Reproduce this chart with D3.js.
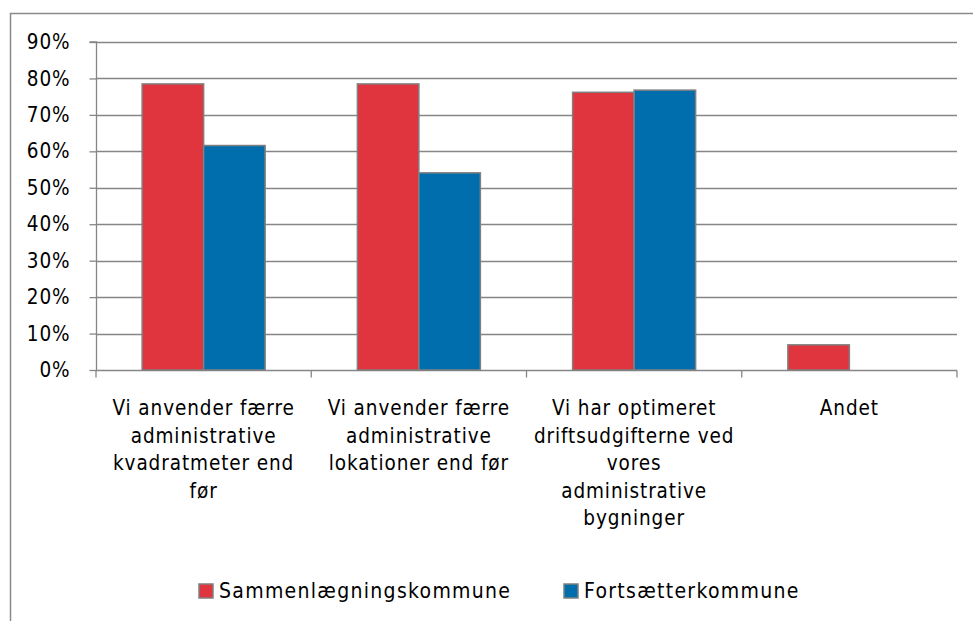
<!DOCTYPE html>
<html><head><meta charset="utf-8">
<script src="https://cdn.jsdelivr.net/npm/d3@7"></script>
<style>body{margin:0;background:#fff}svg{display:block}</style>
</head><body>
<svg id="c" width="973" height="621"></svg>
<script>
const categories = [
  ["Vi anvender færre","administrative","kvadratmeter end","før"],
  ["Vi anvender færre","administrative","lokationer end før"],
  ["Vi har optimeret","driftsudgifterne ved","vores","administrative","bygninger"],
  ["Andet"]
];
const seriesNames = ["Sammenlægningskommune","Fortsætterkommune"];
const sammen = [0.785, 0.785, 0.762, 0.069];
const fortsaet = [0.616, 0.541, 0.768, 0];
const yTicks = [0,0.1,0.2,0.3,0.4,0.5,0.6,0.7,0.8,0.9];
const colors = ["#E0343E","#006EAD"];

const FONT = "'DejaVu Sans Condensed','DejaVu Sans',sans-serif";
const svg = d3.select("#c");
const L=96, R=957, T=42, B=370;
const x = d3.scaleBand().domain(d3.range(categories.length)).range([L,R]).paddingInner(0).paddingOuter(0);
const y = d3.scaleLinear().domain([0,0.9]).range([B,T]);
const gap = 1.5;
const bw = x.bandwidth()/(2+gap);
const xs = d3.scaleBand().domain([0,1]).range([bw*gap/2, bw*gap/2+2*bw]);

// outer border
svg.append("path").attr("d","M10.5,621 L10.5,13.5 L973,13.5").attr("fill","none").attr("stroke","#8a8a8a").attr("stroke-width",1.5);

// gridlines
svg.append("g").selectAll("line").data(yTicks.slice(1)).join("line")
  .attr("x1",L).attr("x2",R).attr("y1",d=>Math.round(y(d))+0.5).attr("y2",d=>Math.round(y(d))+0.5)
  .attr("stroke","#868686").attr("stroke-width",1.3);

// y axis
const ya = svg.append("g").attr("transform",`translate(${L+0.5},0)`)
  .call(d3.axisLeft(y).tickValues(yTicks).tickFormat(d3.format(".0%")).tickSize(7).tickPadding(19));
ya.select(".domain").attr("stroke","#868686").attr("stroke-width",1.3).attr("d",`M-7,${T}H0V${B}`);
ya.selectAll(".tick line").attr("stroke","#868686").attr("stroke-width",1.3);
ya.selectAll(".tick text").attr("font-family",FONT).attr("font-size",20.5).attr("letter-spacing","0.9px").attr("fill","#000");

// x axis
const xa = svg.append("g").attr("transform",`translate(0,${B+0.5})`);
xa.append("line").attr("x1",L).attr("x2",R).attr("stroke","#868686").attr("stroke-width",1.3);
xa.selectAll("line.t").data(d3.range(categories.length+1)).join("line").attr("class","t")
  .attr("x1",i=>L+i*x.bandwidth()).attr("x2",i=>L+i*x.bandwidth()).attr("y1",0).attr("y2",7)
  .attr("stroke","#868686").attr("stroke-width",1.3);

// bars
const data = [sammen, fortsaet];
data.forEach((vals,s)=>{
  svg.append("g").selectAll("rect").data(vals.map((v,i)=>({v,i})).filter(d=>d.v>0)).join("rect")
    .attr("x",d=>x(d.i)+xs(s)).attr("width",bw)
    .attr("y",d=>y(d.v)).attr("height",d=>y(0)-y(d.v))
    .attr("fill",colors[s]).attr("stroke","#808080").attr("stroke-width",1.5);
});

// category labels
categories.forEach((lines,i)=>{
  const t = svg.append("text").attr("font-family",FONT).attr("font-size",20.5).attr("letter-spacing","0.9px").attr("text-anchor","middle").attr("fill","#000");
  lines.forEach((ln,j)=>{
    t.append("tspan").attr("x",x(i)+x.bandwidth()/2).attr("y",415+j*27.5).text(ln);
  });
});

// legend
const leg = [{x:199,name:seriesNames[0],c:colors[0]},{x:564,name:seriesNames[1],c:colors[1]}];
leg.forEach(l=>{
  svg.append("rect").attr("x",l.x).attr("y",584).attr("width",14).attr("height",14).attr("fill",l.c).attr("stroke","#808080").attr("stroke-width",1.5);
  svg.append("text").attr("x",l.x+20).attr("y",598).attr("font-family",FONT).attr("font-size",21).attr("letter-spacing","1.3px").attr("fill","#000").text(l.name);
});
</script>
</body></html>
